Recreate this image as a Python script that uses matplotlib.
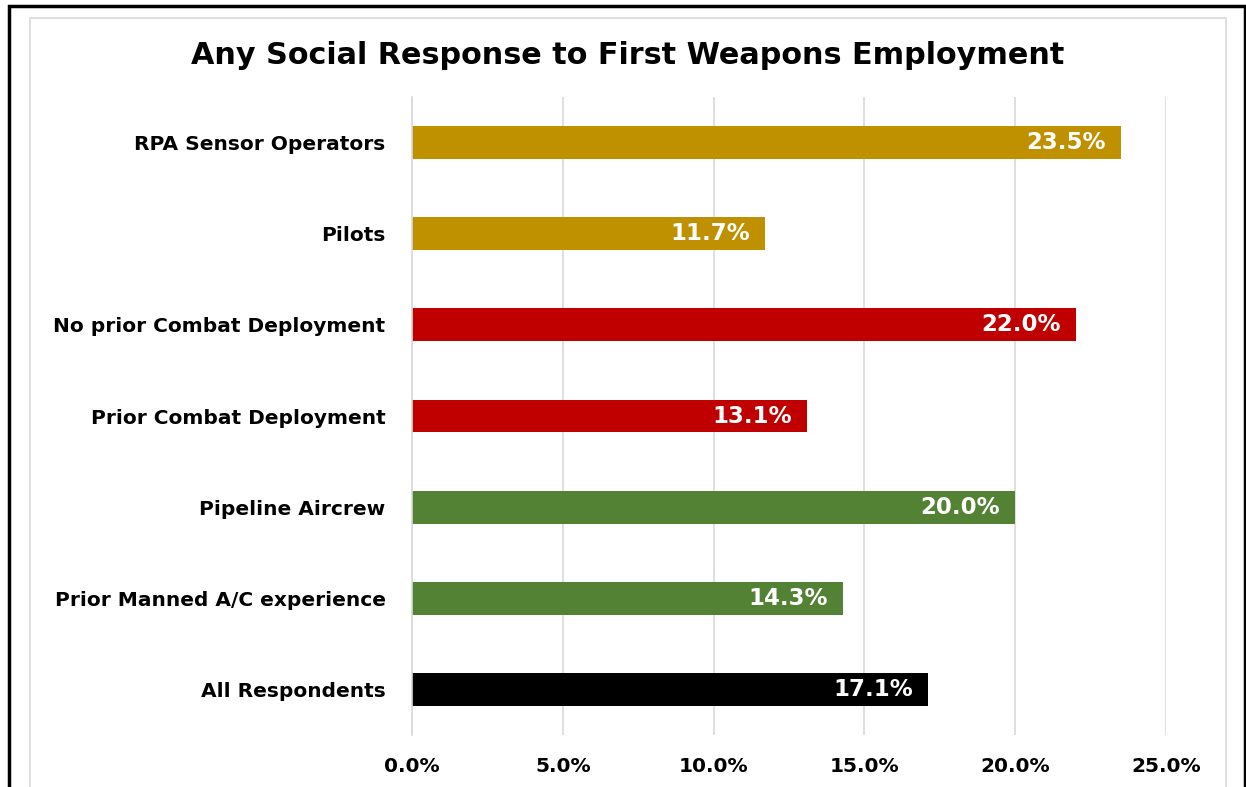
import matplotlib
matplotlib.use("Agg")
import matplotlib.pyplot as plt
from matplotlib.patches import Rectangle

categories = [
    "RPA Sensor Operators",
    "Pilots",
    "No prior Combat Deployment",
    "Prior Combat Deployment",
    "Pipeline Aircrew",
    "Prior Manned A/C experience",
    "All Respondents",
]
values = [23.5, 11.7, 22.0, 13.1, 20.0, 14.3, 17.1]
bar_colors = ["#BF9000", "#BF9000", "#C00000", "#C00000", "#548235", "#548235", "#000000"]
xticks = [0, 5, 10, 15, 20, 25]

W, H = 1246, 787
fig = plt.figure(figsize=(W / 100, H / 100), dpi=100)

# outer frame and inner chart-area frame
fig.add_artist(Rectangle((9 / W, -0.01), (1245 - 9) / W, (H - 6) / H + 0.01,
                         transform=fig.transFigure, fill=False, edgecolor="black", linewidth=2.5))
fig.add_artist(Rectangle((30 / W, -0.01), (1226 - 30) / W, (H - 18) / H + 0.01,
                         transform=fig.transFigure, fill=False, edgecolor="#d9d9d9", linewidth=1.2))

ax = fig.add_axes([412 / W, 1 - 735 / H, (1166 - 412) / W, (735 - 97) / H])
y = list(range(len(categories)))
bars = ax.barh(y, values, height=0.36, color=bar_colors, zorder=2)
for rect, v in zip(bars, values):
    ax.text(v - 0.5, rect.get_y() + rect.get_height() / 2, f"{v:.1f}%",
            ha="right", va="center", color="white", fontsize=16.5, fontweight="bold")

ax.set_xlim(0, 25)
ax.set_ylim(len(categories) - 0.5, -0.5)
ax.set_xticks(xticks)
ax.set_xticklabels([f"{t:.1f}%" for t in xticks], fontsize=14.5, fontweight="bold")
ax.set_yticks(y)
ax.set_yticklabels(categories, fontsize=14.5, fontweight="bold")
ax.tick_params(axis="both", length=0)
ax.tick_params(axis="x", pad=16)
ax.tick_params(axis="y", pad=19)
ax.grid(axis="x", color="#d9d9d9", linewidth=1.2, zorder=0)
for s in ["top", "right", "bottom"]:
    ax.spines[s].set_visible(False)
ax.spines["left"].set_color("#d9d9d9")
ax.spines["left"].set_linewidth(1.2)

fig.text(628 / W, 1 - 55 / H, "Any Social Response to First Weapons Employment",
         ha="center", va="center", fontsize=21.8, fontweight="bold")

fig.savefig("out.png", dpi=100)
